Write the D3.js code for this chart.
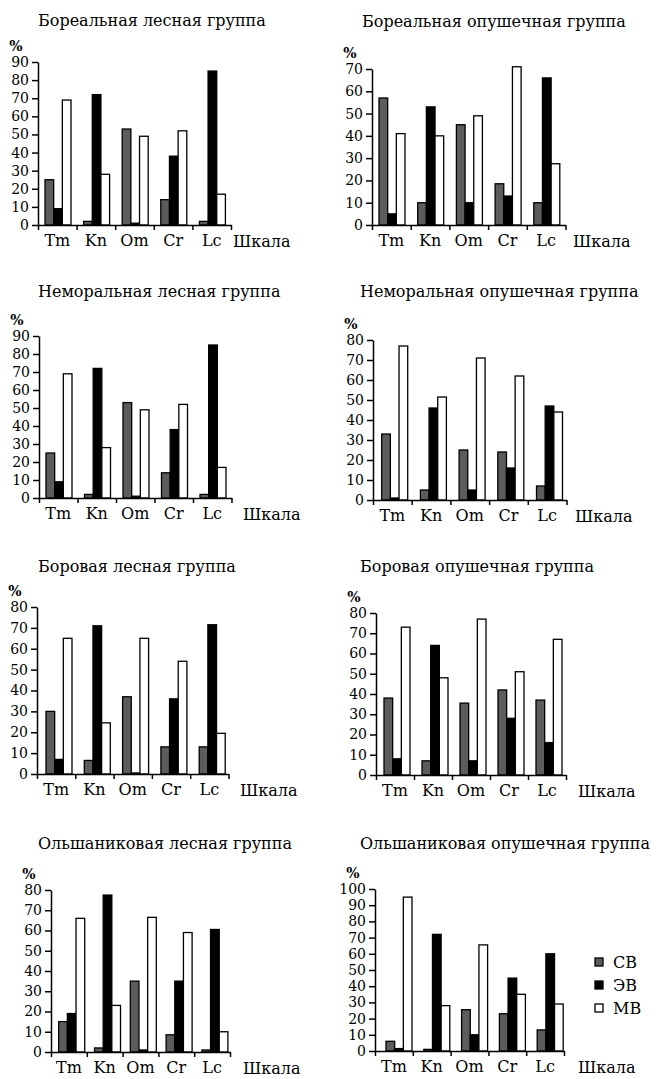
<!DOCTYPE html>
<html>
<head>
<meta charset="utf-8">
<script src="https://cdn.jsdelivr.net/npm/d3@7"></script>
<style>
  body { margin: 0; background: #fff; }
  text { font-family: "DejaVu Serif", serif; fill: #000; }
  .axis path, .axis line { stroke: #000; stroke-width: 1.5px; }
</style>
</head>
<body>
<svg id="chart" width="661" height="1079"></svg>
<script>
var categories = ['Tm', 'Kn', 'Om', 'Cr', 'Lc'];
var seriesNames = ['СВ', 'ЭВ', 'МВ'];
var seriesColors = ['#5c5c5c', '#000', '#fff'];

var titles = [
  'Бореальная лесная группа', 'Бореальная опушечная группа',
  'Неморальная лесная группа', 'Неморальная опушечная группа',
  'Боровая лесная группа', 'Боровая опушечная группа',
  'Ольшаниковая лесная группа', 'Ольшаниковая опушечная группа'
];
var yMaxes = [90, 70, 90, 80, 80, 80, 80, 100];

// rows: СВ, ЭВ, МВ ; columns follow categories
var borealForest  = [[25, 2, 53, 14, 2], [9, 72, 1, 38, 85], [69, 28, 49, 52, 17]];
var borealEdge    = [[57, 10, 45, 18.5, 10], [5, 53, 10, 13, 66], [41, 40, 49, 71, 27.5]];
var nemoralForest = [[25, 2, 53, 14, 2], [9, 72, 1, 38, 85], [69, 28, 49, 52, 17]];
var nemoralEdge   = [[33, 5, 25, 24, 7], [1, 46, 5, 16, 47], [77, 51.5, 71, 62, 44]];
var pineForest    = [[30, 6.5, 37, 13, 13], [7, 71, 0.5, 36, 71.5], [65, 24.5, 65, 54, 19.5]];
var pineEdge      = [[38, 7, 35.5, 42, 37], [8, 64, 7, 28, 16], [73, 48, 77, 51, 67]];
var alderForest   = [[15, 2, 35, 8.5, 1], [19, 77.5, 1, 35, 60.5], [66, 23, 66.5, 59, 10]];
var alderEdge     = [[6, 1, 25.5, 23, 13], [1.5, 72, 10, 45, 60], [95, 28, 65.5, 35, 29]];

var panelValues = [borealForest, borealEdge, nemoralForest, nemoralEdge,
                   pineForest, pineEdge, alderForest, alderEdge];

// where each small chart sits on the page
var layout = [
  {ax: 38,  y0: 225,  yTop: 62,  bw: 38.6, off: 7,   tx: 38,  ty: 26,  sx: 233},
  {ax: 372, y0: 225,  yTop: 69,  bw: 38.7, off: 7,   tx: 362, ty: 27,  sx: 573},
  {ax: 39,  y0: 498,  yTop: 336, bw: 38.5, off: 7,   tx: 38,  ty: 297, sx: 243},
  {ax: 373, y0: 500,  yTop: 340, bw: 38.7, off: 8.7, tx: 360, ty: 297, sx: 575},
  {ax: 37,  y0: 774,  yTop: 607, bw: 38.3, off: 9,   tx: 38,  ty: 572, sx: 240},
  {ax: 376, y0: 775,  yTop: 613, bw: 38,   off: 8,   tx: 360, ty: 572, sx: 578},
  {ax: 51,  y0: 1052, yTop: 890, bw: 35.8, off: 7.7, tx: 38,  ty: 849, sx: 243},
  {ax: 375, y0: 1051, yTop: 889, bw: 37.8, off: 11,  tx: 360, ty: 849, sx: 578}
];

var groupWidth = 26;
var svg = d3.select('#chart');

function drawPanel(i) {
  var L = layout[i];
  var vals = panelValues[i];
  var g = svg.append('g').attr('class', 'panel');

  var xEnd = L.ax + L.bw * categories.length;
  var x0 = d3.scaleBand().domain(categories).range([L.ax, xEnd]).padding(0);
  var x1 = d3.scaleBand().domain(seriesNames).range([L.off, L.off + groupWidth]).padding(0);
  var y = d3.scaleLinear().domain([0, yMaxes[i]]).range([L.y0, L.yTop]);

  // title
  g.append('text')
    .attr('x', L.tx)
    .attr('y', L.ty)
    .style('font-size', '16px')
    .text(titles[i]);

  // percent sign
  g.append('text')
    .attr('x', L.ax - 22)
    .attr('y', L.yTop - 11)
    .style('text-anchor', 'middle')
    .style('font-size', '14px')
    .style('font-weight', 'bold')
    .text('%');

  // bars
  seriesNames.forEach(function(s, si) {
    g.selectAll('rect.s' + si)
      .data(categories)
      .enter()
      .append('rect')
      .attr('class', 's' + si)
      .attr('x', function(c) { return x0(c) + x1(s); })
      .attr('y', function(c, ci) { return y(vals[si][ci]); })
      .attr('width', x1.bandwidth())
      .attr('height', function(c, ci) { return L.y0 - y(vals[si][ci]); })
      .attr('fill', seriesColors[si])
      .attr('stroke', '#000')
      .attr('stroke-width', 1.3);
  });

  // y axis
  var yAxis = d3.axisLeft(y)
    .tickValues(d3.range(0, yMaxes[i] + 1, 10))
    .tickSize(6)
    .tickSizeOuter(0)
    .tickPadding(3);
  var ya = g.append('g')
    .attr('class', 'axis')
    .attr('transform', 'translate(' + L.ax + ',0)')
    .call(yAxis);
  ya.selectAll('text').style('font-size', '14px').style('font-family', '"DejaVu Serif", serif');

  // x axis with ticks at category borders
  var xb = d3.scaleLinear().domain([0, categories.length]).range([L.ax, xEnd]);
  g.append('g')
    .attr('class', 'axis')
    .attr('transform', 'translate(0,' + L.y0 + ')')
    .call(d3.axisBottom(xb).tickValues(d3.range(0, categories.length + 1))
      .tickFormat('').tickSize(5).tickSizeOuter(0));

  // category labels
  var xl = g.append('g')
    .attr('transform', 'translate(0,' + L.y0 + ')')
    .call(d3.axisBottom(x0).tickSize(0).tickPadding(10));
  xl.select('.domain').remove();
  xl.selectAll('text').style('font-size', '16px').style('font-family', '"DejaVu Serif", serif');

  g.append('text')
    .attr('x', L.sx)
    .attr('y', L.y0 + 22)
    .style('font-size', '16px')
    .text('Шкала');
}

for (var i = 0; i < titles.length; i++) {
  drawPanel(i);
}

// legend
var legend = svg.append('g').attr('transform', 'translate(595,962)');
seriesNames.forEach(function(s, si) {
  var row = legend.append('g').attr('transform', 'translate(0,' + (si * 23) + ')');
  row.append('rect')
    .attr('x', 0).attr('y', -4)
    .attr('width', 8).attr('height', 8)
    .attr('fill', seriesColors[si])
    .attr('stroke', '#000')
    .attr('stroke-width', 1.3);
  row.append('text')
    .attr('x', 18).attr('y', 6)
    .style('font-size', '16px')
    .text(s);
});
</script>
</body>
</html>
